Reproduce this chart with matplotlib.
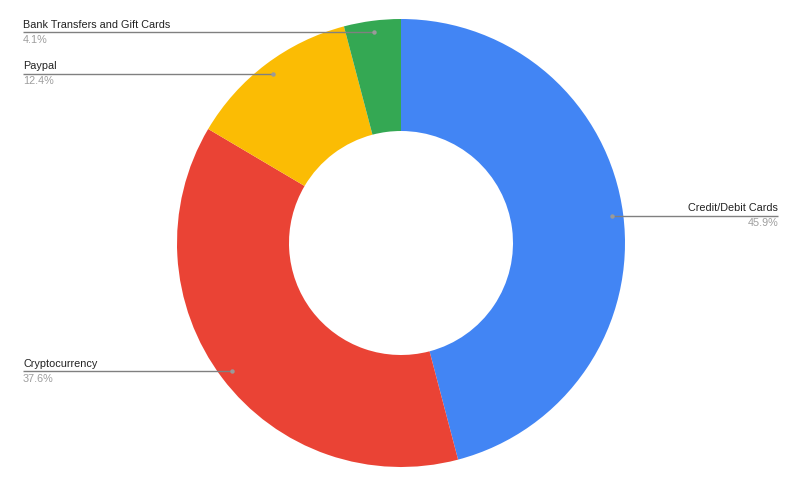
import matplotlib
matplotlib.use("Agg")
import matplotlib.pyplot as plt
import numpy as np

categories = ["Credit/Debit Cards", "Cryptocurrency", "Paypal", "Bank Transfers and Gift Cards"]
values = [45.9, 37.6, 12.4, 4.1]
pct_labels = ["45.9%", "37.6%", "12.4%", "4.1%"]
colors = ["#4285F4", "#EA4335", "#FBBC04", "#34A853"]
sides = ["right", "left", "left", "left"]

W, H = 800, 493
fig = plt.figure(figsize=(8, 4.93), dpi=100)
ax = fig.add_axes([0, 0, 1, 1])

cx, cy = 401, H - 243
R = 224
wedges, _ = ax.pie(values, colors=colors, startangle=90, counterclock=False,
                   radius=R, center=(cx, cy), frame=True,
                   wedgeprops=dict(width=112, edgecolor="none", linewidth=0))
ax.set_xlim(0, W)
ax.set_ylim(0, H)
ax.set_aspect("equal")
ax.axis("off")

fam = ['Liberation Sans', 'DejaVu Sans']
rdot = 0.948 * R
for w, cat, pct, side in zip(wedges, categories, pct_labels, sides):
    ang = np.deg2rad((w.theta1 + w.theta2) / 2)
    dx = cx + rdot * np.cos(ang)
    dy = cy + rdot * np.sin(ang)
    if side == "right":
        x_end = 778
        ha = "right"
    else:
        x_end = 23
        ha = "left"
    ax.plot([dx, x_end], [dy, dy], color="#808080", lw=1.0, solid_capstyle="butt")
    ax.plot([dx], [dy], marker="o", ms=3.2, color="#9a9a9a", mec="none")
    ax.text(x_end, dy + 2.5, cat, ha=ha, va="bottom", fontsize=7.8, color="#222222",
            family=fam)
    ax.text(x_end, dy - 2.5, pct, ha=ha, va="top", fontsize=7.8, color="#9e9e9e",
            family=fam)

fig.savefig("out.png", dpi=100, facecolor="white")
